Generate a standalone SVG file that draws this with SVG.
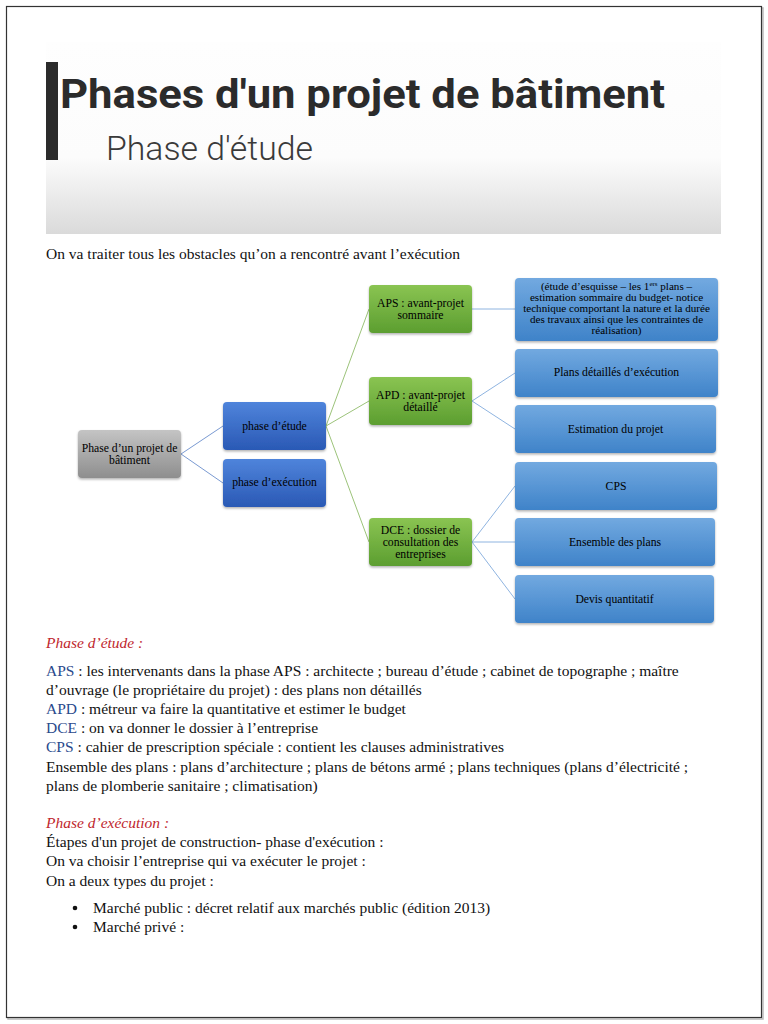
<svg xmlns="http://www.w3.org/2000/svg" width="768" height="1024" viewBox="0 0 768 1024">
<defs>
<linearGradient id="hdr" x1="0" y1="0" x2="0" y2="1">
<stop offset="0" stop-color="#fefefe"/>
<stop offset="0.6" stop-color="#fcfcfc"/>
<stop offset="1" stop-color="#dadada"/>
</linearGradient>
<linearGradient id="gGray" x1="0" y1="0" x2="0" y2="1">
<stop offset="0" stop-color="#c4c4c4"/>
<stop offset="1" stop-color="#8e8e8e"/>
</linearGradient>
<linearGradient id="gDark" x1="0" y1="0" x2="0" y2="1">
<stop offset="0" stop-color="#4f84db"/>
<stop offset="1" stop-color="#2a59b5"/>
</linearGradient>
<linearGradient id="gGreen" x1="0" y1="0" x2="0" y2="1">
<stop offset="0" stop-color="#8ac452"/>
<stop offset="1" stop-color="#5c9e30"/>
</linearGradient>
<linearGradient id="gBlue" x1="0" y1="0" x2="0" y2="1">
<stop offset="0" stop-color="#72a9e0"/>
<stop offset="1" stop-color="#3f83c9"/>
</linearGradient>
<filter id="sh" x="-10%" y="-10%" width="130%" height="140%">
<feDropShadow dx="0" dy="1.5" stdDeviation="1.2" flood-color="#000" flood-opacity="0.3"/>
</filter>
</defs>
<style>
.node text{font-family:"Liberation Serif",serif;font-size:11.7px;fill:#000;text-anchor:middle}
#aps-desc text{font-size:11.1px}
.gray rect{fill:url(#gGray)}
.dark rect{fill:url(#gDark)}
.green rect{fill:url(#gGreen)}
.blue rect{fill:url(#gBlue)}
.node rect{filter:url(#sh)}
.body{font-family:"Liberation Serif",serif;font-size:15.5px;fill:#111}
.red{fill:#c0262d;font-style:italic}
.abbr{fill:#2a4a8c}
#connectors line{fill:none;stroke-width:1}
.cb{stroke:#7a9ad2}
.cg{stroke:#9cc37a}
.cl{stroke:#8fb4e0}
</style>
<rect x="0" y="0" width="768" height="1024" fill="#fff"/>
<rect x="8" y="8" width="755" height="1011" fill="none" stroke="#bbb" stroke-width="1.5"/>
<rect x="6.5" y="6.5" width="755" height="1011" fill="#fff" stroke="#333" stroke-width="1.2"/>

<g id="header">
<rect x="46" y="42" width="675" height="192" fill="url(#hdr)"/>
<rect x="46" y="62" width="12" height="98" fill="#2b2b2b"/>
<text x="60" y="108" font-family="Roboto,sans-serif" font-weight="700" font-size="40" fill="#2b2b2b" textLength="605" lengthAdjust="spacingAndGlyphs">Phases d'un projet de bâtiment</text>
<text x="106" y="160" font-family="Roboto,sans-serif" font-weight="300" font-size="33" fill="#3a3a3a" textLength="207" lengthAdjust="spacingAndGlyphs">Phase d'étude</text>
</g>

<text class="body" x="46" y="259">On va traiter tous les obstacles qu’on a rencontré avant l’exécution</text>

<g id="connectors">
<line class="cb" x1="181" y1="454" x2="223" y2="426"/>
<line class="cb" x1="181" y1="454" x2="223" y2="483"/>
<line class="cg" x1="326" y1="426" x2="369" y2="309"/>
<line class="cg" x1="326" y1="426" x2="369" y2="401"/>
<line class="cg" x1="326" y1="426" x2="369" y2="542"/>
<line class="cl" x1="472" y1="309" x2="515" y2="309"/>
<line class="cl" x1="472" y1="401" x2="515" y2="373"/>
<line class="cl" x1="472" y1="401" x2="515" y2="429"/>
<line class="cl" x1="472" y1="542" x2="515" y2="486"/>
<line class="cl" x1="472" y1="542" x2="515" y2="542"/>
<line class="cl" x1="472" y1="542" x2="515" y2="599"/>
</g>

<g id="root" class="node gray">
<rect x="78" y="430" width="103" height="48" rx="4"/>
<text x="129.5" y="452">Phase d’un projet de</text>
<text x="129.5" y="464">bâtiment</text>
</g>
<g id="phase-etude" class="node dark">
<rect x="223" y="402" width="103" height="48" rx="4"/>
<text x="274.5" y="430">phase d’étude</text>
</g>
<g id="phase-execution" class="node dark">
<rect x="223" y="459" width="103" height="48" rx="4"/>
<text x="274.5" y="486">phase d’exécution</text>
</g>
<g id="aps" class="node green">
<rect x="369" y="285" width="103" height="48" rx="4"/>
<text x="420.5" y="307">APS : avant-projet</text>
<text x="420.5" y="319">sommaire</text>
</g>
<g id="apd" class="node green">
<rect x="369" y="377" width="103" height="48" rx="4"/>
<text x="420.5" y="399">APD : avant-projet</text>
<text x="420.5" y="411">détaillé</text>
</g>
<g id="dce" class="node green">
<rect x="369" y="518" width="103" height="48" rx="4"/>
<text x="420.5" y="534">DCE : dossier de</text>
<text x="420.5" y="546">consultation des</text>
<text x="420.5" y="558">entreprises</text>
</g>
<g id="aps-desc" class="node blue">
<rect x="515" y="278" width="203" height="63" rx="4"/>
<text x="616.5" y="290">(étude d’esquisse – les 1<tspan font-size="7" dy="-4">ers</tspan><tspan dy="4"> plans –</tspan></text>
<text x="616.5" y="301">estimation sommaire du budget- notice</text>
<text x="616.5" y="312">technique comportant la nature et la durée</text>
<text x="616.5" y="323">des travaux ainsi que les contraintes de</text>
<text x="616.5" y="334">réalisation)</text>
</g>
<g id="plans-detailles" class="node blue">
<rect x="515" y="349" width="203" height="48" rx="4"/>
<text x="616.5" y="376">Plans détaillés d’exécution</text>
</g>
<g id="estimation" class="node blue">
<rect x="515" y="405" width="201" height="48" rx="4"/>
<text x="615.5" y="433">Estimation du projet</text>
</g>
<g id="cps" class="node blue">
<rect x="515" y="462" width="202" height="48" rx="4"/>
<text x="616" y="490">CPS</text>
</g>
<g id="ensemble" class="node blue">
<rect x="515" y="518" width="200" height="48" rx="4"/>
<text x="615" y="546">Ensemble des plans</text>
</g>
<g id="devis" class="node blue">
<rect x="515" y="575" width="199" height="48" rx="4"/>
<text x="614.5" y="603">Devis quantitatif</text>
</g>

<g id="notes" class="body">
<text x="46" y="648" class="red">Phase d’étude :</text>
<text x="46" y="676"><tspan class="abbr">APS</tspan> : les intervenants dans la phase APS : architecte ; bureau d’étude ; cabinet de topographe ; maître</text>
<text x="46" y="695">d’ouvrage (le propriétaire du projet) : des plans non détaillés</text>
<text x="46" y="714"><tspan class="abbr">APD</tspan> : métreur va faire la quantitative et estimer le budget</text>
<text x="46" y="733"><tspan class="abbr">DCE</tspan> : on va donner le dossier à l’entreprise</text>
<text x="46" y="752"><tspan class="abbr">CPS</tspan> : cahier de prescription spéciale : contient les clauses administratives</text>
<text x="46" y="772">Ensemble des plans : plans d’architecture ; plans de bétons armé ; plans techniques (plans d’électricité ;</text>
<text x="46" y="791">plans de plomberie sanitaire ; climatisation)</text>
<text x="46" y="828" class="red">Phase d’exécution :</text>
<text x="46" y="847">Étapes d'un projet de construction- phase d'exécution :</text>
<text x="46" y="866">On va choisir l’entreprise qui va exécuter le projet :</text>
<text x="46" y="886">On a deux types du projet :</text>
<circle cx="75" cy="908" r="2.3" fill="#111"/>
<text x="93" y="913">Marché public : décret relatif aux marchés public (édition 2013)</text>
<circle cx="75" cy="927" r="2.3" fill="#111"/>
<text x="93" y="932">Marché privé :</text>
</g>
</svg>
